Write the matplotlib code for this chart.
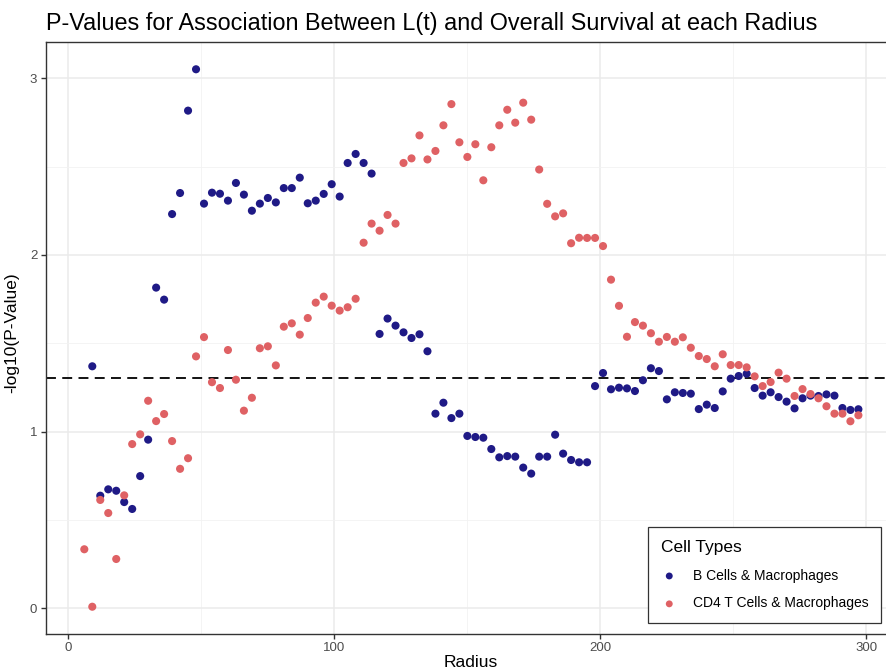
import numpy as np
import matplotlib
matplotlib.use("Agg")
import matplotlib.pyplot as plt

plt.rcParams['font.family'] = ['Liberation Sans', 'DejaVu Sans']

# radius grid (step 3)
radius = np.arange(6, 298, 3)

# -log10(p) for CD4 T cells & macrophages (r = 6 ... 297)
cd4_vals = [
    0.335, 0.01, 0.614, 0.54, 0.28, 0.64, 0.93, 0.985, 1.175, 1.06,
    1.10, 0.947, 0.79, 0.85, 1.426, 1.535, 1.28, 1.247, 1.462, 1.294,
    1.119, 1.192, 1.472, 1.483, 1.375, 1.594, 1.613, 1.549, 1.643, 1.73,
    1.764, 1.713, 1.685, 1.704, 1.752, 2.069, 2.177, 2.137, 2.226, 2.177,
    2.52, 2.546, 2.676, 2.54, 2.588, 2.733, 2.853, 2.637, 2.554, 2.626,
    2.422, 2.609, 2.733, 2.821, 2.748, 2.861, 2.765, 2.483, 2.289, 2.218,
    2.235, 2.066, 2.097, 2.096, 2.096, 2.05, 1.86, 1.712, 1.537, 1.62,
    1.60, 1.557, 1.509, 1.536, 1.509, 1.534, 1.475, 1.428, 1.411, 1.37,
    1.438, 1.377, 1.377, 1.364, 1.313, 1.258, 1.281, 1.334, 1.30, 1.202,
    1.241, 1.213, 1.189, 1.144, 1.102, 1.102, 1.059, 1.093,
]

# -log10(p) for B cells & macrophages (no value at r = 6)
b_vals = [
    np.nan, 1.37, 0.638, 0.674, 0.666, 0.602, 0.563, 0.749, 0.955, 1.815,
    1.747, 2.231, 2.35, 2.816, 3.05, 2.29, 2.352, 2.346, 2.307, 2.407,
    2.341, 2.25, 2.29, 2.322, 2.297, 2.378, 2.378, 2.437, 2.292, 2.307,
    2.345, 2.40, 2.33, 2.52, 2.571, 2.52, 2.46, 1.553, 1.64, 1.60,
    1.562, 1.53, 1.551, 1.455, 1.102, 1.164, 1.077, 1.102, 0.976, 0.97,
    0.966, 0.902, 0.855, 0.862, 0.859, 0.797, 0.763, 0.859, 0.859, 0.983,
    0.876, 0.84, 0.827, 0.827, 1.258, 1.332, 1.24, 1.249, 1.245, 1.23,
    1.291, 1.359, 1.343, 1.183, 1.223, 1.219, 1.215, 1.128, 1.153, 1.134,
    1.228, 1.30, 1.315, 1.328, 1.247, 1.204, 1.223, 1.196, 1.17, 1.132,
    1.189, 1.204, 1.202, 1.211, 1.204, 1.134, 1.123, 1.127,
]

series_names = ["B Cells & Macrophages", "CD4 T Cells & Macrophages"]
series_colors = ["#1f1a86", "#df6164"]
threshold = -np.log10(0.05)

W, H = 886, 671
fig = plt.figure(figsize=(W / 100, H / 100), dpi=100)
ax = fig.add_axes([45.6 / W, 1 - 633.6 / H, 851.5 / W, 591.2 / H])

ax.set_xlim(-8.55, 311.55)
ax.set_ylim(-0.142, 3.202)

# ggplot-like grid
ax.set_xticks([0, 100, 200, 300])
ax.set_xticks([50, 150, 250], minor=True)
ax.set_yticks([0, 1, 2, 3])
ax.set_yticks([0.5, 1.5, 2.5], minor=True)
ax.grid(which='major', color='#ebebeb', linewidth=1.1)
ax.grid(which='minor', color='#f2f2f2', linewidth=0.6)
ax.set_axisbelow(True)
ax.tick_params(which='minor', length=0)
ax.tick_params(which='major', length=3.5, width=1, color='#333333',
               labelsize=9.5, labelcolor='#4d4d4d', pad=2.5)
for s in ax.spines.values():
    s.set_color('#333333')
    s.set_linewidth(1.0)

ax.axhline(threshold, color='black', linestyle=(0, (5.5, 3.5)), linewidth=1.3, zorder=2)

ax.scatter(radius, b_vals, s=34, color=series_colors[0], edgecolors='none',
           label=series_names[0], zorder=3)
ax.scatter(radius, cd4_vals, s=34, color=series_colors[1], edgecolors='none',
           label=series_names[1], zorder=3)

fig.text(46 / W, 1 - 30 / H, "P-Values for Association Between L(t) and Overall Survival at each Radius",
         fontsize=16.8, color='black', va='baseline', ha='left')
fig.text(471 / W, 1 - 655 / H, "Radius", fontsize=12.5, ha='center', va='top')
fig.text(12 / W, 1 - 333 / H, "-log10(P-Value)", fontsize=12.5, rotation=90,
         ha='center', va='center')

leg = fig.legend(loc='lower right', bbox_to_anchor=(881 / W, 1 - 623 / H),
                 borderaxespad=0,
                 title="Cell Types", title_fontsize=12.5, fontsize=10,
                 frameon=True, fancybox=False, framealpha=1, edgecolor='#333333',
                 borderpad=0.9, labelspacing=1.0, handletextpad=1.1,
                 handlelength=1.2, alignment='left', markerscale=0.85)
leg.get_frame().set_linewidth(0.9)

fig.savefig("out.png", dpi=100)
